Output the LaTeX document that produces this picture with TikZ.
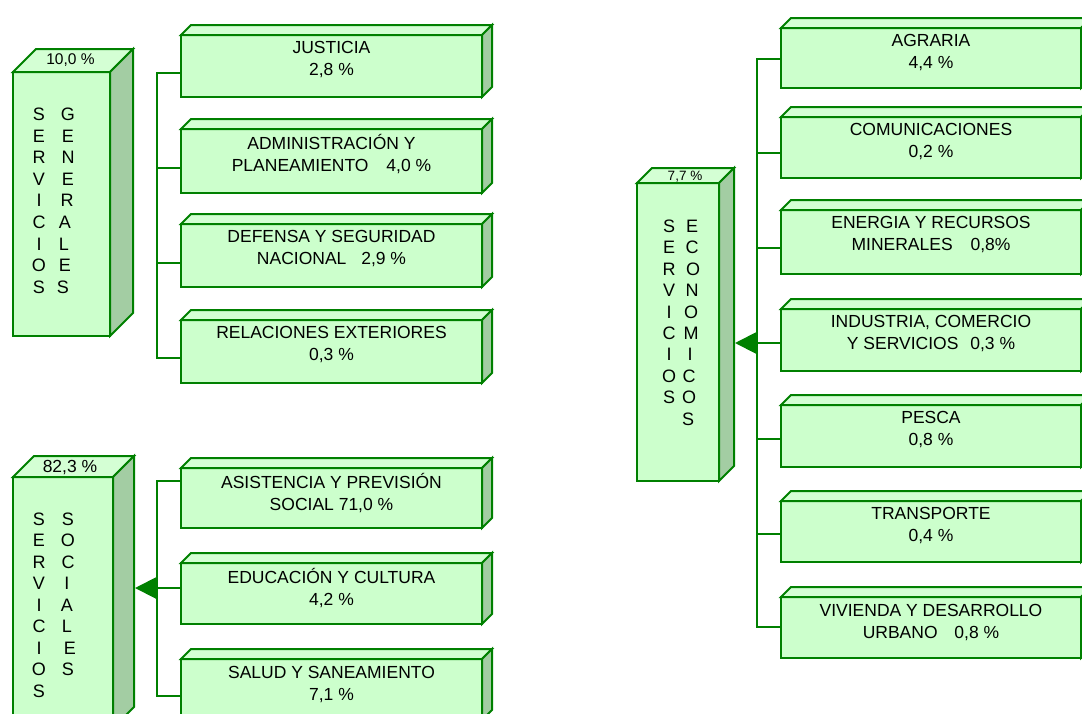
\documentclass[tikz,border=0pt]{standalone}
\usepackage{fontspec}
\setmainfont{Liberation Sans}
\usetikzlibrary{arrows.meta}
\definecolor{gborder}{RGB}{0,128,0}
\definecolor{gfront}{RGB}{204,255,204}
\definecolor{gtop}{RGB}{212,255,212}
\definecolor{gside}{RGB}{163,205,163}
\newcommand{\solidbox}[6]{%
  \node[frontface, minimum width={(#3-#2)*1pt}, minimum height={(#5-#4)*1pt}] (#1) at ({(#2+#3)/2},{(#4+#5)/2}) {};
  \filldraw[topface] (#1.north west) -- ++(#6,-#6) -- ([shift={(#6,-#6)}]#1.north east) -- (#1.north east) -- cycle;
  \filldraw[sideface] (#1.north east) -- ([shift={(#6,-#6)}]#1.north east) -- ([shift={(#6,-#6)}]#1.south east) -- (#1.south east) -- cycle;
}
\begin{document}
\begin{tikzpicture}[x=1pt,y=-1pt,
  frontface/.style={draw=gborder, fill=gfront, line width=2pt, inner sep=0pt, outer sep=0pt},
  topface/.style={draw=gborder, fill=gtop, line width=2pt},
  sideface/.style={draw=gborder, fill=gside, line width=2pt},
  lbl/.style={font=\fontsize{17.5}{22}\selectfont, align=center, inner sep=0pt},
  letter/.style={font=\fontsize{18}{22}\selectfont, inner sep=0pt, text height=12.9pt, text depth=0pt},
  conn/.style={draw=gborder, line width=2pt},
  pct/.style={inner sep=0pt}
]
\useasboundingbox (0,0) rectangle (1082,713);
\clip (0,0) rectangle (1082,713);

% ---------- SERVICIOS GENERALES ----------
\solidbox{sg}{13}{110}{72}{336}{23}
\node[pct, font=\fontsize{15.5}{18}\selectfont] (sg-p) at (70.5,60) {10,0 \%};
\foreach \l [count=\i from 0] in {S,E,R,V,I,C,I,O,S}
  \node[letter] (sg-a\i) at (39,{114+21.6*\i}) {\l};
\foreach \l/\x [count=\i from 0] in {G/68,E/68,N/68,E/68,R/67,A/65,L/64,E/65,S/63}
  \node[letter] (sg-b\i) at (\x,{114+21.6*\i}) {\l};

\solidbox{j}{181}{482}{35}{97}{10}
\solidbox{ad}{181}{482}{129}{193}{10}
\solidbox{de}{181}{482}{224}{287}{10}
\solidbox{re}{181}{482}{320}{383}{10}
\node[lbl] (j-t) at ([yshift=-25pt]j.north) {JUSTICIA\\2,8 \%};
\node[lbl] (ad-t) at ([yshift=-25pt]ad.north) {ADMINISTRACIÓN Y\\PLANEAMIENTO\hspace{13pt} 4,0 \%};
\node[lbl] (de-t) at ([yshift=-25pt]de.north) {DEFENSA Y SEGURIDAD\\NACIONAL\hspace{10pt} 2,9 \%};
\node[lbl] (re-t) at ([yshift=-25pt]re.north) {RELACIONES EXTERIORES\\0,3 \%};

\coordinate (jb) at (157,73);
\coordinate (adb) at (157,168);
\coordinate (deb) at (157,263);
\coordinate (reb) at (157,358);
\draw[conn] (jb -| j.west) -- (jb) -- (reb) -- (reb -| re.west);
\draw[conn] (adb) -- (adb -| ad.west);
\draw[conn] (deb) -- (deb -| de.west);

% ---------- SERVICIOS SOCIALES ----------
\solidbox{ss}{13}{113}{477}{728}{21}
\node[pct, font=\fontsize{17.5}{20}\selectfont] (ss-p) at (70,468) {82,3 \%};
\foreach \l [count=\i from 0] in {S,E,R,V,I,C,I,O,S}
  \node[letter] (ss-a\i) at (39,{519+21.5*\i}) {\l};
\foreach \l/\x [count=\i from 0] in {S/68,O/68,C/68,I/67,A/67,L/67,E/70,S/68}
  \node[letter] (ss-b\i) at (\x,{519+21.5*\i}) {\l};

\solidbox{as}{181}{482}{468}{528}{10}
\solidbox{ed}{181}{482}{563}{624}{10}
\solidbox{sa}{181}{482}{659}{720}{10}
\node[lbl] (as-t) at ([yshift=-25pt]as.north) {ASISTENCIA Y PREVISIÓN\\SOCIAL 71,0 \%};
\node[lbl] (ed-t) at ([yshift=-25pt]ed.north) {EDUCACIÓN Y CULTURA\\4,2 \%};
\node[lbl] (sa-t) at ([yshift=-25pt]sa.north) {SALUD Y SANEAMIENTO\\7,1 \%};

\coordinate (asb) at (157,481);
\coordinate (edb) at (157,588);
\coordinate (sab) at (157,696);
\coordinate (sstip) at (135,588);
\draw[conn] (asb -| as.west) -- (asb) -- (sab) -- (sab -| sa.west);
\draw[conn] (edb) -- (edb -| ed.west);
\draw[conn, -{Triangle[length=22pt 0 0, width=22pt 0 0]}] (edb) -- (sstip);

% ---------- SERVICIOS ECONOMICOS ----------
\solidbox{se}{637}{719}{183}{481}{15}
\node[pct, font=\fontsize{13.5}{16}\selectfont] (se-p) at (685,177) {7,7 \%};
\foreach \l [count=\i from 0] in {S,E,R,V,I,C,I,O,S}
  \node[letter] (se-a\i) at (669,{226+21.4*\i}) {\l};
\foreach \l/\x [count=\i from 0] in {E/692,C/692,O/693,N/692,O/691,M/691,I/690,C/689,O/689,S/688}
  \node[letter] (se-b\i) at (\x,{226+21.4*\i}) {\l};

\solidbox{ag}{781}{1081}{28}{88}{10}
\solidbox{co}{781}{1081}{117}{178}{10}
\solidbox{en}{781}{1081}{210}{274}{10}
\solidbox{in}{781}{1081}{309}{371}{10}
\solidbox{pe}{781}{1081}{405}{467}{10}
\solidbox{tr}{781}{1081}{501}{562}{10}
\solidbox{vi}{781}{1081}{597}{658}{10}
\node[lbl] (ag-t) at ([yshift=-25pt]ag.north) {AGRARIA\\4,4 \%};
\node[lbl] (co-t) at ([yshift=-25pt]co.north) {COMUNICACIONES\\0,2 \%};
\node[lbl] (en-t) at ([yshift=-25pt]en.north) {ENERGIA Y RECURSOS\\MINERALES\hspace{13pt} 0,8\%};
\node[lbl] (in-t) at ([yshift=-25pt]in.north) {INDUSTRIA, COMERCIO\\Y SERVICIOS\hspace{7pt} 0,3 \%};
\node[lbl] (pe-t) at ([yshift=-25pt]pe.north) {PESCA\\0,8 \%};
\node[lbl] (tr-t) at ([yshift=-25pt]tr.north) {TRANSPORTE\\0,4 \%};
\node[lbl] (vi-t) at ([yshift=-25pt]vi.north) {VIVIENDA Y DESARROLLO\\URBANO\hspace{12pt} 0,8 \%};

\coordinate (agb) at (757,59);
\coordinate (cob) at (757,153);
\coordinate (enb) at (757,248);
\coordinate (inb) at (757,343);
\coordinate (peb) at (757,439);
\coordinate (trb) at (757,534);
\coordinate (vib) at (757,627);
\coordinate (setip) at (735,343);
\draw[conn] (agb -| ag.west) -- (agb) -- (vib) -- (vib -| vi.west);
\draw[conn] (cob) -- (cob -| co.west);
\draw[conn] (enb) -- (enb -| en.west);
\draw[conn] (inb) -- (inb -| in.west);
\draw[conn] (peb) -- (peb -| pe.west);
\draw[conn] (trb) -- (trb -| tr.west);
\draw[conn, -{Triangle[length=22pt 0 0, width=22pt 0 0]}] (inb) -- (setip);
\end{tikzpicture}
\end{document}
